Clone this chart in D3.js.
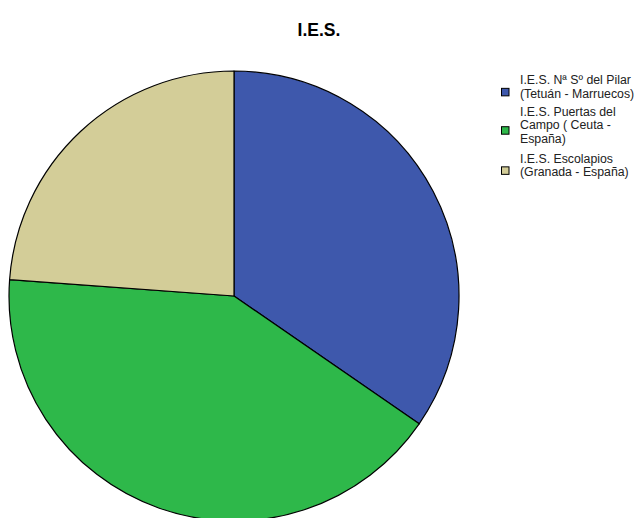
<!DOCTYPE html>
<html>
<head>
<meta charset="utf-8">
<script src="https://cdn.jsdelivr.net/npm/d3@7"></script>
<style>
  html, body { margin: 0; padding: 0; background: #fff; }
  svg { display: block; }
</style>
</head>
<body>
<svg id="chart" width="635" height="518"></svg>
<script>
// Pupils per school
const schools = ["I.E.S. Nª Sº del Pilar (Tetuán - Marruecos)",
                 "I.E.S. Puertas del Campo ( Ceuta - España)",
                 "I.E.S. Escolapios (Granada - España)"];
const counts = [45, 54, 31];
const colors = ["#3E58AC", "#2EB84A", "#D3CD98"];
// Legend text as wrapped lines
const legendLines = [
  ["I.E.S. Nª Sº del Pilar", "(Tetuán - Marruecos)"],
  ["I.E.S. Puertas del", "Campo ( Ceuta -", "España)"],
  ["I.E.S. Escolapios", "(Granada - España)"]
];

const svg = d3.select("#chart");
const font = "'Liberation Sans', Arial, sans-serif";

svg.append("text")
  .attr("x", 319).attr("y", 36)
  .attr("text-anchor", "middle")
  .attr("font-family", font)
  .attr("font-weight", "bold")
  .attr("font-size", 17.5)
  .text("I.E.S.");

const cx = 234, cy = 296, r = 225;
const pie = d3.pie().sort(null).value(d => d);
const arc = d3.arc().innerRadius(0).outerRadius(r);
const color = d3.scaleOrdinal().domain(d3.range(counts.length)).range(colors);

svg.append("g")
  .attr("transform", `translate(${cx},${cy})`)
  .selectAll("path")
  .data(pie(counts))
  .join("path")
  .attr("d", arc)
  .attr("fill", (d, i) => color(i))
  .attr("stroke", "#000")
  .attr("stroke-width", 1.2)
  .attr("stroke-linejoin", "round");

// Legend
const lineH = 13.7;
const itemTop = [84, 115.5, 162.5];   // first baseline of each entry
const lg = svg.append("g").attr("font-family", font).attr("font-size", 12.3);
legendLines.forEach((lines, i) => {
  const g = lg.append("g");
  const first = itemTop[i];
  const last = first + (lines.length - 1) * lineH;
  const mid = (first + last) / 2 + 1;
  g.append("rect")
    .attr("x", 501.5).attr("y", mid - 3.5)
    .attr("width", 7.5).attr("height", 7.5)
    .attr("fill", color(i))
    .attr("stroke", "#000").attr("stroke-width", 1);
  g.selectAll("text")
    .data(lines)
    .join("text")
    .attr("x", 520)
    .attr("y", (d, j) => first + j * lineH)
    .attr("fill", "#222")
    .text(d => d);
});
</script>
</body>
</html>
